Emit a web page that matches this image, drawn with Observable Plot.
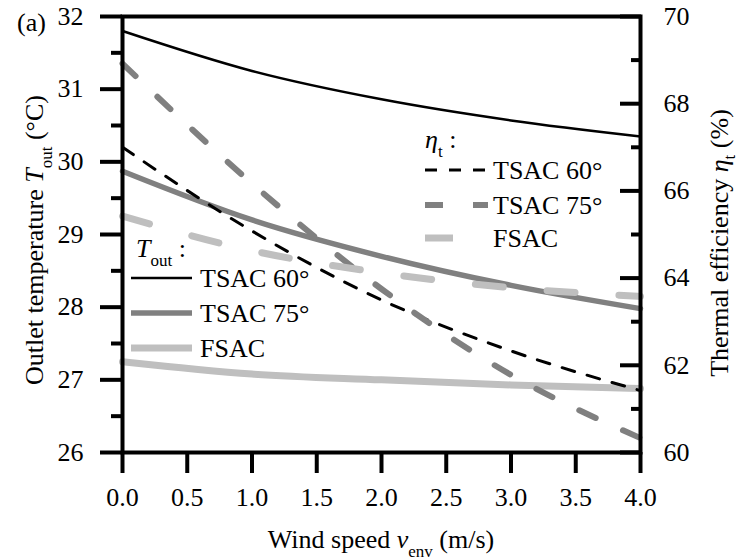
<!DOCTYPE html>
<html><head><meta charset="utf-8">
<script src="https://cdn.jsdelivr.net/npm/d3@7"></script>
<script src="https://cdn.jsdelivr.net/npm/@observablehq/plot@0.6"></script>
<style>body{margin:0;background:#fff} svg{display:block}</style>
</head><body><div id="chart"></div>
<script>
// ---- data ----
const windSpeed = [0, 1, 2, 3, 4];
const toutTSAC60 = [31.8, 31.25, 30.86, 30.57, 30.35];
const toutTSAC75 = [29.87, 29.2, 28.7, 28.3, 27.98];
const toutFSAC   = [27.25, 27.08, 27.0, 26.93, 26.88];
const etaTSAC60  = [67.0, 65.08, 63.5, 62.33, 61.42];
const etaTSAC75  = [68.92, 66.17, 63.75, 61.78, 60.33];
const etaFSAC    = [65.42, 64.63, 64.12, 63.78, 63.58];
const xTicks = [0, 0.5, 1, 1.5, 2, 2.5, 3, 3.5, 4];
const leftTicks = [26, 27, 28, 29, 30, 31, 32];
const leftMinor = [26.5, 27.5, 28.5, 29.5, 30.5, 31.5];
const rightTicks = [60, 62, 64, 66, 68, 70];
const rightMinor = [61, 63, 65, 67, 69];

// right axis (eta, 60..70) mapped onto the left scale (Tout, 26..32)
const etaToT = e => 26 + (e - 60) * 0.6;
const tToEta = t => 60 + (t - 26) / 0.6;

const BLACK = "#000", DARK = "#808080", LIGHT = "#bfbfbf";
const series = (arr, f = v => v) => windSpeed.map((x, i) => ({x, y: f(arr[i])}));

const FONT = "'Liberation Serif'";
const svg = Plot.plot({
  width: 741, height: 560,
  marginLeft: 122, marginRight: 101, marginTop: 16, marginBottom: 108,
  style: {fontSize: "26px", color: "black", background: "white"},
  x: {domain: [0, 4], axis: null, label: null},
  y: {domain: [26, 32], axis: null, label: null},
  marks: [
    Plot.line(series(toutTSAC60), {x: "x", y: "y", stroke: BLACK, strokeWidth: 2.5, curve: "monotone-x"}),
    Plot.line(series(toutTSAC75), {x: "x", y: "y", stroke: DARK, strokeWidth: 5.5, curve: "monotone-x"}),
    Plot.line(series(toutFSAC), {x: "x", y: "y", stroke: LIGHT, strokeWidth: 7, curve: "monotone-x"}),
    Plot.line(series(etaTSAC60, etaToT), {x: "x", y: "y", stroke: BLACK, strokeWidth: 3, strokeDasharray: "13,13", curve: "monotone-x"}),
    Plot.line(series(etaTSAC75, etaToT), {x: "x", y: "y", stroke: DARK, strokeWidth: 6, strokeDasharray: "18,30", curve: "monotone-x"}),
    Plot.line(series(etaFSAC, etaToT), {x: "x", y: "y", stroke: LIGHT, strokeWidth: 7, strokeDasharray: "28,44", curve: "monotone-x"}),
    Plot.frame({stroke: BLACK, strokeWidth: 4}),
    Plot.axisX(xTicks, {anchor: "bottom", tickSize: 21, tickPadding: 14, strokeWidth: 4, fontSize: 26, tickFormat: d3.format(".1f")}),
    Plot.axisY(leftTicks, {anchor: "left", tickSize: 22, tickPadding: 17, strokeWidth: 4, fontSize: 26, tickFormat: d => String(d)}),
    Plot.axisY(leftMinor, {anchor: "left", tickSize: 11, strokeWidth: 4, tickFormat: () => ""}),
    Plot.axisY(rightTicks.map(etaToT), {anchor: "right", tickSize: -21, strokeWidth: 4, tickFormat: () => ""}),
    Plot.axisY(rightMinor.map(etaToT), {anchor: "right", tickSize: -10, strokeWidth: 4, tickFormat: () => ""}),
    Plot.axisY(rightTicks.map(etaToT), {anchor: "right", tickSize: 0, tickPadding: 23, fontSize: 26, tickFormat: d => String(Math.round(tToEta(d)))})
  ]
});
document.getElementById("chart").appendChild(svg);

// ---- rich text (titles, legends) ----
const root = d3.select(svg);
const g = root.append("g").attr("font-size", 26).attr("fill", "black");
function rich(x, y, parts, {anchor = "start", rotate = 0, sub = 9} = {}) {
  const t = g.append("text").attr("text-anchor", anchor)
    .attr("transform", `translate(${x},${y}) rotate(${rotate})`);
  let shift = 0;
  for (const p of parts) {
    const s = t.append("tspan").text(p.t);
    if (p.i) s.attr("font-style", "italic");
    const target = p.sub ? sub : 0;
    if (target !== shift) { s.attr("dy", target - shift); shift = target; }
    if (p.sub) s.attr("font-size", 17);
  }
  return t;
}
rich(17, 31, [{t: "(a)"}]);
rich(381, 548, [{t: "Wind speed "}, {t: "v", i: true}, {t: "env", sub: true}, {t: " (m/s)"}], {anchor: "middle"});
rich(43, 240, [{t: "Outlet temperature "}, {t: "T", i: true}, {t: "out", sub: true}, {t: " (°C)"}], {anchor: "middle", rotate: -90});
rich(728, 243, [{t: "Thermal efficiency "}, {t: "η", i: true}, {t: "t", sub: true}, {t: " (%)"}], {anchor: "middle", rotate: -90, sub: 7});

// left legend (T_out)
rich(136, 257, [{t: "T", i: true}, {t: "out", sub: true}, {t: " :"}]);
const leftLeg = [
  {label: "TSAC 60°", stroke: BLACK, w: 2.5, y: 278},
  {label: "TSAC 75°", stroke: DARK, w: 5.5, y: 313},
  {label: "FSAC", stroke: LIGHT, w: 7, y: 348}
];
for (const d of leftLeg) {
  g.append("line").attr("x1", 131).attr("x2", 192).attr("y1", d.y).attr("y2", d.y)
    .attr("stroke", d.stroke).attr("stroke-width", d.w);
  rich(200, d.y + 9, [{t: d.label}]);
}
// right legend (eta_t)
rich(425, 148, [{t: "η", i: true}, {t: "t", sub: true}, {t: " :"}]);
const rightLeg = [
  {label: "TSAC 60°", stroke: BLACK, w: 3, dash: "12,12", y: 170},
  {label: "TSAC 75°", stroke: DARK, w: 6, dash: "18,30", y: 205},
  {label: "FSAC", stroke: LIGHT, w: 7, dash: "28,44", y: 238}
];
for (const d of rightLeg) {
  g.append("line").attr("x1", 425).attr("x2", 488).attr("y1", d.y).attr("y2", d.y)
    .attr("stroke", d.stroke).attr("stroke-width", d.w).attr("stroke-dasharray", d.dash);
  rich(493, d.y + 9, [{t: d.label}]);
}
// force the serif face on every text element
d3.select(svg).attr("font-family", null);
d3.select(svg).selectAll("g").attr("font-family", null);
d3.select(svg).selectAll("text, tspan").style("font-family", FONT);
</script>
</body></html>
